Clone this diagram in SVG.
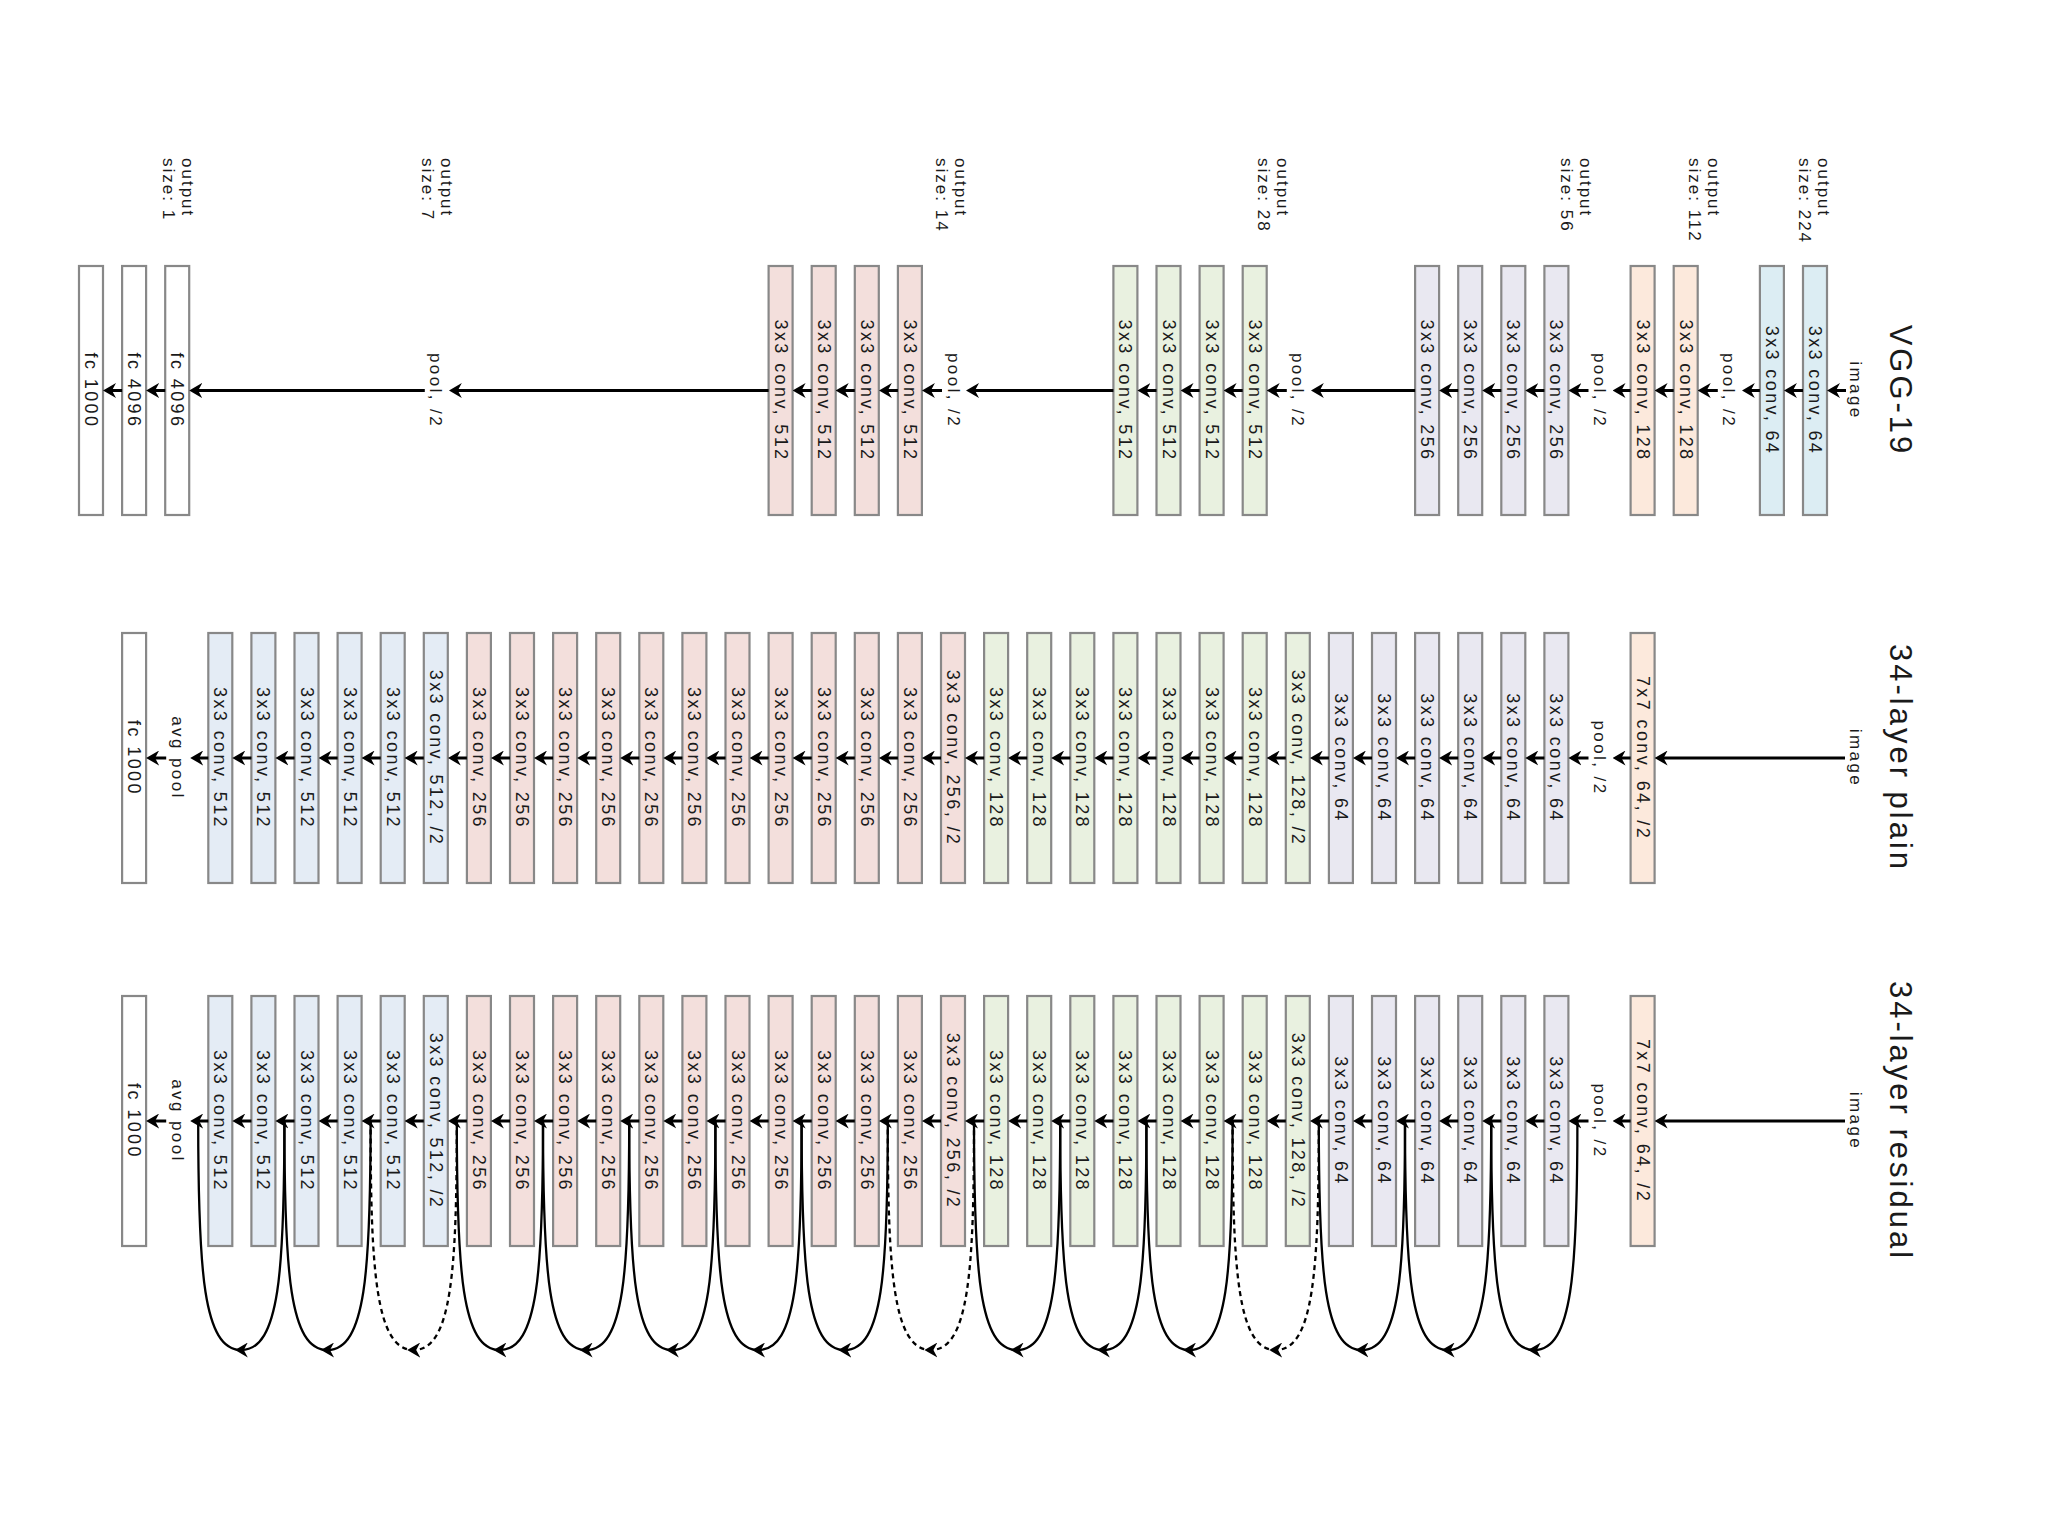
<svg xmlns="http://www.w3.org/2000/svg" width="2048" height="1536" viewBox="0 0 2048 1536">
<defs>
<style>
.box{stroke:#888888;stroke-width:2.2}
.blue{fill:#dcedf3}.peach{fill:#fce9dc}.lav{fill:#e9e8f1}.green{fill:#e9f1e0}.pink{fill:#f3dfdc}.blue5{fill:#e4ecf5}.white{fill:#ffffff}
text{font-family:"Liberation Sans",Arial,sans-serif;fill:#1a1a1a}
.t{font-size:18px;letter-spacing:2.4px;text-anchor:middle;dominant-baseline:central}
.lb{font-size:17px;letter-spacing:2.4px;text-anchor:middle;dominant-baseline:central}
.title{font-size:31px;letter-spacing:3px;text-anchor:middle}
.out{font-size:17px;letter-spacing:2px}
.flow{stroke:#000;stroke-width:3;fill:none;marker-end:url(#ah)}
.skip{stroke:#000;stroke-width:2.3;fill:none;marker-mid:url(#am)}
.dash{stroke-dasharray:5 4}
</style>
<marker id="ah" markerUnits="userSpaceOnUse" markerWidth="13" markerHeight="15" viewBox="0 0 13 15" refX="7" refY="7.5" orient="auto"><path d="M0,0 L13,7.5 L0,15 L4,7.5 z" fill="#000"/></marker>
<marker id="am" markerUnits="userSpaceOnUse" markerWidth="13" markerHeight="15" viewBox="0 0 13 15" refX="6.5" refY="7.5" orient="auto"><path d="M0,0 L13,7.5 L0,15 L4,7.5 z" fill="#000"/></marker>
</defs>
<rect width="2048" height="1536" fill="#ffffff"/>

<g id="titles">
<text class="title" transform="translate(1890,390.5) rotate(90)">VGG-19</text>
<text class="title" transform="translate(1890,758) rotate(90)">34-layer plain</text>
<text class="title" transform="translate(1890,1121) rotate(90)">34-layer residual</text>
</g>

<g id="output-sizes">
<text class="out" transform="translate(1818,158) rotate(90)"><tspan x="0" y="0">output</tspan><tspan x="0" y="19">size: 224</tspan></text>
<text class="out" transform="translate(1708,158) rotate(90)"><tspan x="0" y="0">output</tspan><tspan x="0" y="19">size: 112</tspan></text>
<text class="out" transform="translate(1580,158) rotate(90)"><tspan x="0" y="0">output</tspan><tspan x="0" y="19">size: 56</tspan></text>
<text class="out" transform="translate(1277,158) rotate(90)"><tspan x="0" y="0">output</tspan><tspan x="0" y="19">size: 28</tspan></text>
<text class="out" transform="translate(955,158) rotate(90)"><tspan x="0" y="0">output</tspan><tspan x="0" y="19">size: 14</tspan></text>
<text class="out" transform="translate(441,158) rotate(90)"><tspan x="0" y="0">output</tspan><tspan x="0" y="19">size: 7</tspan></text>
<text class="out" transform="translate(182,158) rotate(90)"><tspan x="0" y="0">output</tspan><tspan x="0" y="19">size: 1</tspan></text>
</g>

<!-- VGG-19 row -->
<g id="vgg-image"><text class="lb" transform="translate(1855,390.5) rotate(90)">image</text></g>
<g id="vgg-conv1"><rect class="box blue" x="1803" y="266" width="24" height="249"/><text class="t" transform="translate(1815,390.5) rotate(90)">3x3 conv, 64</text></g>
<g id="vgg-conv2"><rect class="box blue" x="1759.9" y="266" width="24" height="249"/><text class="t" transform="translate(1771.9,390.5) rotate(90)">3x3 conv, 64</text></g>
<g id="vgg-pool1"><text class="lb" transform="translate(1728.8,390.5) rotate(90)">pool, /2</text></g>
<g id="vgg-conv3"><rect class="box peach" x="1673.7" y="266" width="24" height="249"/><text class="t" transform="translate(1685.7,390.5) rotate(90)">3x3 conv, 128</text></g>
<g id="vgg-conv4"><rect class="box peach" x="1630.6" y="266" width="24" height="249"/><text class="t" transform="translate(1642.6,390.5) rotate(90)">3x3 conv, 128</text></g>
<g id="vgg-pool2"><text class="lb" transform="translate(1599.5,390.5) rotate(90)">pool, /2</text></g>
<g id="vgg-conv5"><rect class="box lav" x="1544.4" y="266" width="24" height="249"/><text class="t" transform="translate(1556.4,390.5) rotate(90)">3x3 conv, 256</text></g>
<g id="vgg-conv6"><rect class="box lav" x="1501.3" y="266" width="24" height="249"/><text class="t" transform="translate(1513.3,390.5) rotate(90)">3x3 conv, 256</text></g>
<g id="vgg-conv7"><rect class="box lav" x="1458.2" y="266" width="24" height="249"/><text class="t" transform="translate(1470.2,390.5) rotate(90)">3x3 conv, 256</text></g>
<g id="vgg-conv8"><rect class="box lav" x="1415.1" y="266" width="24" height="249"/><text class="t" transform="translate(1427.1,390.5) rotate(90)">3x3 conv, 256</text></g>
<g id="vgg-pool3"><text class="lb" transform="translate(1297.8,390.5) rotate(90)">pool, /2</text></g>
<g id="vgg-conv9"><rect class="box green" x="1242.7" y="266" width="24" height="249"/><text class="t" transform="translate(1254.7,390.5) rotate(90)">3x3 conv, 512</text></g>
<g id="vgg-conv10"><rect class="box green" x="1199.6" y="266" width="24" height="249"/><text class="t" transform="translate(1211.6,390.5) rotate(90)">3x3 conv, 512</text></g>
<g id="vgg-conv11"><rect class="box green" x="1156.5" y="266" width="24" height="249"/><text class="t" transform="translate(1168.5,390.5) rotate(90)">3x3 conv, 512</text></g>
<g id="vgg-conv12"><rect class="box green" x="1113.4" y="266" width="24" height="249"/><text class="t" transform="translate(1125.4,390.5) rotate(90)">3x3 conv, 512</text></g>
<g id="vgg-pool4"><text class="lb" transform="translate(953,390.5) rotate(90)">pool, /2</text></g>
<g id="vgg-conv13"><rect class="box pink" x="897.9" y="266" width="24" height="249"/><text class="t" transform="translate(909.9,390.5) rotate(90)">3x3 conv, 512</text></g>
<g id="vgg-conv14"><rect class="box pink" x="854.8" y="266" width="24" height="249"/><text class="t" transform="translate(866.8,390.5) rotate(90)">3x3 conv, 512</text></g>
<g id="vgg-conv15"><rect class="box pink" x="811.7" y="266" width="24" height="249"/><text class="t" transform="translate(823.7,390.5) rotate(90)">3x3 conv, 512</text></g>
<g id="vgg-conv16"><rect class="box pink" x="768.6" y="266" width="24" height="249"/><text class="t" transform="translate(780.6,390.5) rotate(90)">3x3 conv, 512</text></g>
<g id="vgg-pool5"><text class="lb" transform="translate(435.8,390.5) rotate(90)">pool, /2</text></g>
<g id="vgg-fc1"><rect class="box white" x="165.2" y="266" width="24" height="249"/><text class="t" transform="translate(177.2,390.5) rotate(90)">fc 4096</text></g>
<g id="vgg-fc2"><rect class="box white" x="122.1" y="266" width="24" height="249"/><text class="t" transform="translate(134.1,390.5) rotate(90)">fc 4096</text></g>
<g id="vgg-fc3"><rect class="box white" x="79" y="266" width="24" height="249"/><text class="t" transform="translate(91,390.5) rotate(90)">fc 1000</text></g>

<!-- 34-layer plain row -->
<g id="plain-image"><text class="lb" transform="translate(1855,758) rotate(90)">image</text></g>
<g id="plain-conv1"><rect class="box peach" x="1630.6" y="633" width="24" height="250"/><text class="t" transform="translate(1642.6,758) rotate(90)">7x7 conv, 64, /2</text></g>
<g id="plain-pool"><text class="lb" transform="translate(1599.5,758) rotate(90)">pool, /2</text></g>
<g id="plain-conv2"><rect class="box lav" x="1544.4" y="633" width="24" height="250"/><text class="t" transform="translate(1556.4,758) rotate(90)">3x3 conv, 64</text></g>
<g id="plain-conv3"><rect class="box lav" x="1501.3" y="633" width="24" height="250"/><text class="t" transform="translate(1513.3,758) rotate(90)">3x3 conv, 64</text></g>
<g id="plain-conv4"><rect class="box lav" x="1458.2" y="633" width="24" height="250"/><text class="t" transform="translate(1470.2,758) rotate(90)">3x3 conv, 64</text></g>
<g id="plain-conv5"><rect class="box lav" x="1415.1" y="633" width="24" height="250"/><text class="t" transform="translate(1427.1,758) rotate(90)">3x3 conv, 64</text></g>
<g id="plain-conv6"><rect class="box lav" x="1372" y="633" width="24" height="250"/><text class="t" transform="translate(1384,758) rotate(90)">3x3 conv, 64</text></g>
<g id="plain-conv7"><rect class="box lav" x="1328.9" y="633" width="24" height="250"/><text class="t" transform="translate(1340.9,758) rotate(90)">3x3 conv, 64</text></g>
<g id="plain-conv8"><rect class="box green" x="1285.8" y="633" width="24" height="250"/><text class="t" transform="translate(1297.8,758) rotate(90)">3x3 conv, 128, /2</text></g>
<g id="plain-conv9"><rect class="box green" x="1242.7" y="633" width="24" height="250"/><text class="t" transform="translate(1254.7,758) rotate(90)">3x3 conv, 128</text></g>
<g id="plain-conv10"><rect class="box green" x="1199.6" y="633" width="24" height="250"/><text class="t" transform="translate(1211.6,758) rotate(90)">3x3 conv, 128</text></g>
<g id="plain-conv11"><rect class="box green" x="1156.5" y="633" width="24" height="250"/><text class="t" transform="translate(1168.5,758) rotate(90)">3x3 conv, 128</text></g>
<g id="plain-conv12"><rect class="box green" x="1113.4" y="633" width="24" height="250"/><text class="t" transform="translate(1125.4,758) rotate(90)">3x3 conv, 128</text></g>
<g id="plain-conv13"><rect class="box green" x="1070.3" y="633" width="24" height="250"/><text class="t" transform="translate(1082.3,758) rotate(90)">3x3 conv, 128</text></g>
<g id="plain-conv14"><rect class="box green" x="1027.2" y="633" width="24" height="250"/><text class="t" transform="translate(1039.2,758) rotate(90)">3x3 conv, 128</text></g>
<g id="plain-conv15"><rect class="box green" x="984.1" y="633" width="24" height="250"/><text class="t" transform="translate(996.1,758) rotate(90)">3x3 conv, 128</text></g>
<g id="plain-conv16"><rect class="box pink" x="941" y="633" width="24" height="250"/><text class="t" transform="translate(953,758) rotate(90)">3x3 conv, 256, /2</text></g>
<g id="plain-conv17"><rect class="box pink" x="897.9" y="633" width="24" height="250"/><text class="t" transform="translate(909.9,758) rotate(90)">3x3 conv, 256</text></g>
<g id="plain-conv18"><rect class="box pink" x="854.8" y="633" width="24" height="250"/><text class="t" transform="translate(866.8,758) rotate(90)">3x3 conv, 256</text></g>
<g id="plain-conv19"><rect class="box pink" x="811.7" y="633" width="24" height="250"/><text class="t" transform="translate(823.7,758) rotate(90)">3x3 conv, 256</text></g>
<g id="plain-conv20"><rect class="box pink" x="768.6" y="633" width="24" height="250"/><text class="t" transform="translate(780.6,758) rotate(90)">3x3 conv, 256</text></g>
<g id="plain-conv21"><rect class="box pink" x="725.5" y="633" width="24" height="250"/><text class="t" transform="translate(737.5,758) rotate(90)">3x3 conv, 256</text></g>
<g id="plain-conv22"><rect class="box pink" x="682.4" y="633" width="24" height="250"/><text class="t" transform="translate(694.4,758) rotate(90)">3x3 conv, 256</text></g>
<g id="plain-conv23"><rect class="box pink" x="639.3" y="633" width="24" height="250"/><text class="t" transform="translate(651.3,758) rotate(90)">3x3 conv, 256</text></g>
<g id="plain-conv24"><rect class="box pink" x="596.2" y="633" width="24" height="250"/><text class="t" transform="translate(608.2,758) rotate(90)">3x3 conv, 256</text></g>
<g id="plain-conv25"><rect class="box pink" x="553.1" y="633" width="24" height="250"/><text class="t" transform="translate(565.1,758) rotate(90)">3x3 conv, 256</text></g>
<g id="plain-conv26"><rect class="box pink" x="510" y="633" width="24" height="250"/><text class="t" transform="translate(522,758) rotate(90)">3x3 conv, 256</text></g>
<g id="plain-conv27"><rect class="box pink" x="466.9" y="633" width="24" height="250"/><text class="t" transform="translate(478.9,758) rotate(90)">3x3 conv, 256</text></g>
<g id="plain-conv28"><rect class="box blue5" x="423.8" y="633" width="24" height="250"/><text class="t" transform="translate(435.8,758) rotate(90)">3x3 conv, 512, /2</text></g>
<g id="plain-conv29"><rect class="box blue5" x="380.7" y="633" width="24" height="250"/><text class="t" transform="translate(392.7,758) rotate(90)">3x3 conv, 512</text></g>
<g id="plain-conv30"><rect class="box blue5" x="337.6" y="633" width="24" height="250"/><text class="t" transform="translate(349.6,758) rotate(90)">3x3 conv, 512</text></g>
<g id="plain-conv31"><rect class="box blue5" x="294.5" y="633" width="24" height="250"/><text class="t" transform="translate(306.5,758) rotate(90)">3x3 conv, 512</text></g>
<g id="plain-conv32"><rect class="box blue5" x="251.4" y="633" width="24" height="250"/><text class="t" transform="translate(263.4,758) rotate(90)">3x3 conv, 512</text></g>
<g id="plain-conv33"><rect class="box blue5" x="208.3" y="633" width="24" height="250"/><text class="t" transform="translate(220.3,758) rotate(90)">3x3 conv, 512</text></g>
<g id="plain-avgpool"><text class="lb" transform="translate(177.2,758) rotate(90)">avg pool</text></g>
<g id="plain-fc"><rect class="box white" x="122.1" y="633" width="24" height="250"/><text class="t" transform="translate(134.1,758) rotate(90)">fc 1000</text></g>

<!-- 34-layer residual row -->
<g id="res-image"><text class="lb" transform="translate(1855,1121) rotate(90)">image</text></g>
<g id="res-conv1"><rect class="box peach" x="1630.6" y="996" width="24" height="250"/><text class="t" transform="translate(1642.6,1121) rotate(90)">7x7 conv, 64, /2</text></g>
<g id="res-pool"><text class="lb" transform="translate(1599.5,1121) rotate(90)">pool, /2</text></g>
<g id="res-conv2"><rect class="box lav" x="1544.4" y="996" width="24" height="250"/><text class="t" transform="translate(1556.4,1121) rotate(90)">3x3 conv, 64</text></g>
<g id="res-conv3"><rect class="box lav" x="1501.3" y="996" width="24" height="250"/><text class="t" transform="translate(1513.3,1121) rotate(90)">3x3 conv, 64</text></g>
<g id="res-conv4"><rect class="box lav" x="1458.2" y="996" width="24" height="250"/><text class="t" transform="translate(1470.2,1121) rotate(90)">3x3 conv, 64</text></g>
<g id="res-conv5"><rect class="box lav" x="1415.1" y="996" width="24" height="250"/><text class="t" transform="translate(1427.1,1121) rotate(90)">3x3 conv, 64</text></g>
<g id="res-conv6"><rect class="box lav" x="1372" y="996" width="24" height="250"/><text class="t" transform="translate(1384,1121) rotate(90)">3x3 conv, 64</text></g>
<g id="res-conv7"><rect class="box lav" x="1328.9" y="996" width="24" height="250"/><text class="t" transform="translate(1340.9,1121) rotate(90)">3x3 conv, 64</text></g>
<g id="res-conv8"><rect class="box green" x="1285.8" y="996" width="24" height="250"/><text class="t" transform="translate(1297.8,1121) rotate(90)">3x3 conv, 128, /2</text></g>
<g id="res-conv9"><rect class="box green" x="1242.7" y="996" width="24" height="250"/><text class="t" transform="translate(1254.7,1121) rotate(90)">3x3 conv, 128</text></g>
<g id="res-conv10"><rect class="box green" x="1199.6" y="996" width="24" height="250"/><text class="t" transform="translate(1211.6,1121) rotate(90)">3x3 conv, 128</text></g>
<g id="res-conv11"><rect class="box green" x="1156.5" y="996" width="24" height="250"/><text class="t" transform="translate(1168.5,1121) rotate(90)">3x3 conv, 128</text></g>
<g id="res-conv12"><rect class="box green" x="1113.4" y="996" width="24" height="250"/><text class="t" transform="translate(1125.4,1121) rotate(90)">3x3 conv, 128</text></g>
<g id="res-conv13"><rect class="box green" x="1070.3" y="996" width="24" height="250"/><text class="t" transform="translate(1082.3,1121) rotate(90)">3x3 conv, 128</text></g>
<g id="res-conv14"><rect class="box green" x="1027.2" y="996" width="24" height="250"/><text class="t" transform="translate(1039.2,1121) rotate(90)">3x3 conv, 128</text></g>
<g id="res-conv15"><rect class="box green" x="984.1" y="996" width="24" height="250"/><text class="t" transform="translate(996.1,1121) rotate(90)">3x3 conv, 128</text></g>
<g id="res-conv16"><rect class="box pink" x="941" y="996" width="24" height="250"/><text class="t" transform="translate(953,1121) rotate(90)">3x3 conv, 256, /2</text></g>
<g id="res-conv17"><rect class="box pink" x="897.9" y="996" width="24" height="250"/><text class="t" transform="translate(909.9,1121) rotate(90)">3x3 conv, 256</text></g>
<g id="res-conv18"><rect class="box pink" x="854.8" y="996" width="24" height="250"/><text class="t" transform="translate(866.8,1121) rotate(90)">3x3 conv, 256</text></g>
<g id="res-conv19"><rect class="box pink" x="811.7" y="996" width="24" height="250"/><text class="t" transform="translate(823.7,1121) rotate(90)">3x3 conv, 256</text></g>
<g id="res-conv20"><rect class="box pink" x="768.6" y="996" width="24" height="250"/><text class="t" transform="translate(780.6,1121) rotate(90)">3x3 conv, 256</text></g>
<g id="res-conv21"><rect class="box pink" x="725.5" y="996" width="24" height="250"/><text class="t" transform="translate(737.5,1121) rotate(90)">3x3 conv, 256</text></g>
<g id="res-conv22"><rect class="box pink" x="682.4" y="996" width="24" height="250"/><text class="t" transform="translate(694.4,1121) rotate(90)">3x3 conv, 256</text></g>
<g id="res-conv23"><rect class="box pink" x="639.3" y="996" width="24" height="250"/><text class="t" transform="translate(651.3,1121) rotate(90)">3x3 conv, 256</text></g>
<g id="res-conv24"><rect class="box pink" x="596.2" y="996" width="24" height="250"/><text class="t" transform="translate(608.2,1121) rotate(90)">3x3 conv, 256</text></g>
<g id="res-conv25"><rect class="box pink" x="553.1" y="996" width="24" height="250"/><text class="t" transform="translate(565.1,1121) rotate(90)">3x3 conv, 256</text></g>
<g id="res-conv26"><rect class="box pink" x="510" y="996" width="24" height="250"/><text class="t" transform="translate(522,1121) rotate(90)">3x3 conv, 256</text></g>
<g id="res-conv27"><rect class="box pink" x="466.9" y="996" width="24" height="250"/><text class="t" transform="translate(478.9,1121) rotate(90)">3x3 conv, 256</text></g>
<g id="res-conv28"><rect class="box blue5" x="423.8" y="996" width="24" height="250"/><text class="t" transform="translate(435.8,1121) rotate(90)">3x3 conv, 512, /2</text></g>
<g id="res-conv29"><rect class="box blue5" x="380.7" y="996" width="24" height="250"/><text class="t" transform="translate(392.7,1121) rotate(90)">3x3 conv, 512</text></g>
<g id="res-conv30"><rect class="box blue5" x="337.6" y="996" width="24" height="250"/><text class="t" transform="translate(349.6,1121) rotate(90)">3x3 conv, 512</text></g>
<g id="res-conv31"><rect class="box blue5" x="294.5" y="996" width="24" height="250"/><text class="t" transform="translate(306.5,1121) rotate(90)">3x3 conv, 512</text></g>
<g id="res-conv32"><rect class="box blue5" x="251.4" y="996" width="24" height="250"/><text class="t" transform="translate(263.4,1121) rotate(90)">3x3 conv, 512</text></g>
<g id="res-conv33"><rect class="box blue5" x="208.3" y="996" width="24" height="250"/><text class="t" transform="translate(220.3,1121) rotate(90)">3x3 conv, 512</text></g>
<g id="res-avgpool"><text class="lb" transform="translate(177.2,1121) rotate(90)">avg pool</text></g>
<g id="res-fc"><rect class="box white" x="122.1" y="996" width="24" height="250"/><text class="t" transform="translate(134.1,1121) rotate(90)">fc 1000</text></g>

<g id="connectors">
<!-- VGG -->
<path class="flow" d="M1846,390.5 H1833"/>
<path class="flow" d="M1803,390.5 H1789.9"/>
<path class="flow" d="M1759.9,390.5 H1747.8"/>
<path class="flow" d="M1717.8,390.5 H1703.7"/>
<path class="flow" d="M1673.7,390.5 H1660.6"/>
<path class="flow" d="M1630.6,390.5 H1618.5"/>
<path class="flow" d="M1588.5,390.5 H1574.4"/>
<path class="flow" d="M1544.4,390.5 H1531.3"/>
<path class="flow" d="M1501.3,390.5 H1488.2"/>
<path class="flow" d="M1458.2,390.5 H1445.1"/>
<path class="flow" d="M1415.1,390.5 H1316.8"/>
<path class="flow" d="M1286.8,390.5 H1272.7"/>
<path class="flow" d="M1242.7,390.5 H1229.6"/>
<path class="flow" d="M1199.6,390.5 H1186.5"/>
<path class="flow" d="M1156.5,390.5 H1143.4"/>
<path class="flow" d="M1113.4,390.5 H972"/>
<path class="flow" d="M942,390.5 H927.9"/>
<path class="flow" d="M897.9,390.5 H884.8"/>
<path class="flow" d="M854.8,390.5 H841.7"/>
<path class="flow" d="M811.7,390.5 H798.6"/>
<path class="flow" d="M768.6,390.5 H454.8"/>
<path class="flow" d="M424.8,390.5 H195.2"/>
<path class="flow" d="M165.2,390.5 H152.1"/>
<path class="flow" d="M122.1,390.5 H109"/>
<!-- plain -->
<path class="flow" d="M1845,758 H1660.6"/>
<path class="flow" d="M1630.6,758 H1618.5"/>
<path class="flow" d="M1588.5,758 H1574.4"/>
<path class="flow" d="M1544.4,758 H1531.3"/>
<path class="flow" d="M1501.3,758 H1488.2"/>
<path class="flow" d="M1458.2,758 H1445.1"/>
<path class="flow" d="M1415.1,758 H1402"/>
<path class="flow" d="M1372,758 H1358.9"/>
<path class="flow" d="M1328.9,758 H1315.8"/>
<path class="flow" d="M1285.8,758 H1272.7"/>
<path class="flow" d="M1242.7,758 H1229.6"/>
<path class="flow" d="M1199.6,758 H1186.5"/>
<path class="flow" d="M1156.5,758 H1143.4"/>
<path class="flow" d="M1113.4,758 H1100.3"/>
<path class="flow" d="M1070.3,758 H1057.2"/>
<path class="flow" d="M1027.2,758 H1014.1"/>
<path class="flow" d="M984.1,758 H971"/>
<path class="flow" d="M941,758 H927.9"/>
<path class="flow" d="M897.9,758 H884.8"/>
<path class="flow" d="M854.8,758 H841.7"/>
<path class="flow" d="M811.7,758 H798.6"/>
<path class="flow" d="M768.6,758 H755.5"/>
<path class="flow" d="M725.5,758 H712.4"/>
<path class="flow" d="M682.4,758 H669.3"/>
<path class="flow" d="M639.3,758 H626.2"/>
<path class="flow" d="M596.2,758 H583.1"/>
<path class="flow" d="M553.1,758 H540"/>
<path class="flow" d="M510,758 H496.9"/>
<path class="flow" d="M466.9,758 H453.8"/>
<path class="flow" d="M423.8,758 H410.7"/>
<path class="flow" d="M380.7,758 H367.6"/>
<path class="flow" d="M337.6,758 H324.5"/>
<path class="flow" d="M294.5,758 H281.4"/>
<path class="flow" d="M251.4,758 H238.3"/>
<path class="flow" d="M208.3,758 H196.2"/>
<path class="flow" d="M166.2,758 H152.1"/>
<!-- residual main -->
<path class="flow" d="M1845,1121 H1660.6"/>
<path class="flow" d="M1630.6,1121 H1618.5"/>
<path class="flow" d="M1588.5,1121 H1574.4"/>
<path class="flow" d="M1544.4,1121 H1531.3"/>
<path class="flow" d="M1501.3,1121 H1488.2"/>
<path class="flow" d="M1458.2,1121 H1445.1"/>
<path class="flow" d="M1415.1,1121 H1402"/>
<path class="flow" d="M1372,1121 H1358.9"/>
<path class="flow" d="M1328.9,1121 H1315.8"/>
<path class="flow" d="M1285.8,1121 H1272.7"/>
<path class="flow" d="M1242.7,1121 H1229.6"/>
<path class="flow" d="M1199.6,1121 H1186.5"/>
<path class="flow" d="M1156.5,1121 H1143.4"/>
<path class="flow" d="M1113.4,1121 H1100.3"/>
<path class="flow" d="M1070.3,1121 H1057.2"/>
<path class="flow" d="M1027.2,1121 H1014.1"/>
<path class="flow" d="M984.1,1121 H971"/>
<path class="flow" d="M941,1121 H927.9"/>
<path class="flow" d="M897.9,1121 H884.8"/>
<path class="flow" d="M854.8,1121 H841.7"/>
<path class="flow" d="M811.7,1121 H798.6"/>
<path class="flow" d="M768.6,1121 H755.5"/>
<path class="flow" d="M725.5,1121 H712.4"/>
<path class="flow" d="M682.4,1121 H669.3"/>
<path class="flow" d="M639.3,1121 H626.2"/>
<path class="flow" d="M596.2,1121 H583.1"/>
<path class="flow" d="M553.1,1121 H540"/>
<path class="flow" d="M510,1121 H496.9"/>
<path class="flow" d="M466.9,1121 H453.8"/>
<path class="flow" d="M423.8,1121 H410.7"/>
<path class="flow" d="M380.7,1121 H367.6"/>
<path class="flow" d="M337.6,1121 H324.5"/>
<path class="flow" d="M294.5,1121 H281.4"/>
<path class="flow" d="M251.4,1121 H238.3"/>
<path class="flow" d="M208.3,1121 H196.2"/>
<path class="flow" d="M166.2,1121 H152.1"/>
<!-- residual shortcuts -->
<path class="skip" d="M1577.4,1121 C1577.4,1271 1572.4,1350 1534.3,1350 C1496.2,1350 1491.2,1271 1491.2,1121"/>
<path class="skip" d="M1491.2,1121 C1491.2,1271 1486.2,1350 1448.1,1350 C1410,1350 1405,1271 1405,1121"/>
<path class="skip" d="M1405,1121 C1405,1271 1400,1350 1361.9,1350 C1323.8,1350 1318.8,1271 1318.8,1121"/>
<path class="skip dash" d="M1318.8,1121 C1318.8,1271 1313.8,1350 1275.7,1350 C1237.6,1350 1232.6,1271 1232.6,1121"/>
<path class="skip" d="M1232.6,1121 C1232.6,1271 1227.6,1350 1189.5,1350 C1151.4,1350 1146.4,1271 1146.4,1121"/>
<path class="skip" d="M1146.4,1121 C1146.4,1271 1141.4,1350 1103.3,1350 C1065.2,1350 1060.2,1271 1060.2,1121"/>
<path class="skip" d="M1060.2,1121 C1060.2,1271 1055.2,1350 1017.1,1350 C979,1350 974,1271 974,1121"/>
<path class="skip dash" d="M974,1121 C974,1271 969,1350 930.9,1350 C892.8,1350 887.8,1271 887.8,1121"/>
<path class="skip" d="M887.8,1121 C887.8,1271 882.8,1350 844.7,1350 C806.6,1350 801.6,1271 801.6,1121"/>
<path class="skip" d="M801.6,1121 C801.6,1271 796.6,1350 758.5,1350 C720.4,1350 715.4,1271 715.4,1121"/>
<path class="skip" d="M715.4,1121 C715.4,1271 710.4,1350 672.3,1350 C634.2,1350 629.2,1271 629.2,1121"/>
<path class="skip" d="M629.2,1121 C629.2,1271 624.2,1350 586.1,1350 C548,1350 543,1271 543,1121"/>
<path class="skip" d="M543,1121 C543,1271 538,1350 499.9,1350 C461.8,1350 456.8,1271 456.8,1121"/>
<path class="skip dash" d="M456.8,1121 C456.8,1271 451.8,1350 413.7,1350 C375.6,1350 370.6,1271 370.6,1121"/>
<path class="skip" d="M370.6,1121 C370.6,1271 365.6,1350 327.5,1350 C289.4,1350 284.4,1271 284.4,1121"/>
<path class="skip" d="M284.4,1121 C284.4,1271 279.4,1350 241.3,1350 C203.2,1350 198.2,1271 198.2,1121"/>
</g>
</svg>
